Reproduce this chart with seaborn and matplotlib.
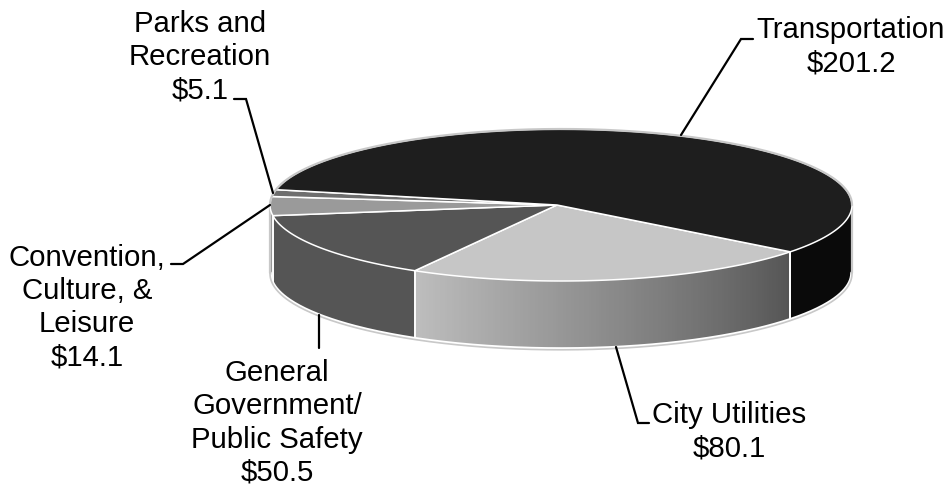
import numpy as np
import matplotlib
matplotlib.use("Agg")
import matplotlib.pyplot as plt
from matplotlib.patches import Polygon
from matplotlib.collections import PolyCollection
import seaborn as sns

# Budget by programme, in millions of dollars
categories = ["City Utilities", "General\nGovernment/\nPublic Safety",
              "Convention,\nCulture, &\nLeisure", "Parks and\nRecreation", "Transportation"]
values = [80.1, 50.5, 14.1, 5.1, 201.2]
top_colors = ["#c6c6c6", "#555555", "#9a9a9a", "#6e6e6e", "#1e1e1e"]
wall_colors = [("#bdbdbd", "#555555"), ("#555555", "#555555"), ("#9a9a9a", "#8a8a8a"),
               ("#6e6e6e", "#6e6e6e"), ("#0a0a0a", "#0a0a0a")]

sns.set_theme(style="white")
plt.rcParams["font.family"] = ["Liberation Sans", "DejaVu Sans"]

# Pie projection, in figure pixels
CX, CY, RX, RY, DEPTH = 561.0, 205.0, 291.0, 76.0, 68.0
APEX = (557.0, 205.0)
START = 38.0


def rim(t_deg, drop=0.0):
    t = np.radians(t_deg)
    return np.column_stack([CX + RX * np.cos(t), CY + RY * np.sin(t) + drop])


fig = plt.figure(figsize=(9.49, 4.86), dpi=100, facecolor="white")
ax = fig.add_axes([0, 0, 1, 1])
ax.set_xlim(0, 949)
ax.set_ylim(486, 0)
ax.axis("off")

edges = START + np.concatenate([[0], np.cumsum(values)]) / np.sum(values) * 360

# Front wall, shaded strip by strip
for i, (a, b) in enumerate(zip(edges[:-1], edges[1:])):
    lo, hi = a % 360, a % 360 + (b - a)
    spans = [(lo, min(hi, 180))] if lo < 180 else []
    if hi > 360:
        spans.append((360, min(hi, 360 + 180)))
    for s0, s1 in spans:
        if s1 <= s0:
            continue
        steps = max(int((s1 - s0) * 2), 2)
        ts = np.linspace(s0, s1, steps + 1)
        shades = sns.blend_palette(wall_colors[i], steps)[::-1]
        quads = []
        for u, v in zip(ts[:-1], ts[1:]):
            seg = np.linspace(u, v, 3)
            quads.append(np.vstack([rim(seg), rim(seg[::-1], DEPTH)]))
        ax.add_collection(PolyCollection(quads, facecolors=shades, edgecolors=shades,
                                         linewidths=1.2, zorder=2))

# Slice separators on the wall
for t in edges:
    if 0 < t % 360 < 180:
        p = rim(np.array([t]))[0]
        ax.plot([p[0], p[0]], [p[1], p[1] + DEPTH], color="white", lw=1.4, zorder=3)

# Light halo round the solid, with a thin white gap inside it on the left
lower = rim(np.linspace(0, 180, 300), DEPTH)
ax.plot(*lower.T, color="white", lw=2.6, zorder=3)
ax.plot(*rim(np.linspace(0, 180, 300), DEPTH + 0.8).T, color="#c8c8c8", lw=1.2, zorder=3)
for x_end in (CX - RX, CX + RX):
    ax.plot([x_end, x_end], [CY, CY + DEPTH], color="#c8c8c8", lw=1.6, zorder=3)

# Top face
for i, (a, b) in enumerate(zip(edges[:-1], edges[1:])):
    arc = rim(np.linspace(a, b, max(int(b - a) * 3, 8)))
    ax.add_patch(Polygon(np.vstack([APEX, arc]), closed=True, fc=top_colors[i],
                         ec="white", lw=1.1, joinstyle="round", zorder=4))
ax.plot(*rim(np.linspace(180, 360, 300)).T, color="#c8c8c8", lw=1.6, zorder=5)

# Labels
labels = [
    (categories[4], values[4], 851, 47),
    (categories[3], values[3], 200, 57),
    (categories[2], values[2], 87, 307.5),
    (categories[1], values[1], 277, 423),
    (categories[0], values[0], 729, 432),
]
for name, val, x, y in labels:
    ax.text(x, y, f"{name}\n${val:.1f}", ha="center", va="center", fontsize=21.2,
            color="black", linespacing=1.24, zorder=6)

# Leader lines
leaders = [
    [(681, 135), (741, 39), (753, 39)],
    [(234, 99), (246, 99), (273, 193)],
    [(171, 264), (183, 264), (270, 205)],
    [(319, 315), (319, 348)],
    [(616, 347), (638, 423), (649, 423)],
]
for pts in leaders:
    xs, ys = zip(*pts)
    ax.plot(xs, ys, color="black", lw=1.6, solid_joinstyle="miter", zorder=6)

fig.savefig("out.png", dpi=100, facecolor="white")
